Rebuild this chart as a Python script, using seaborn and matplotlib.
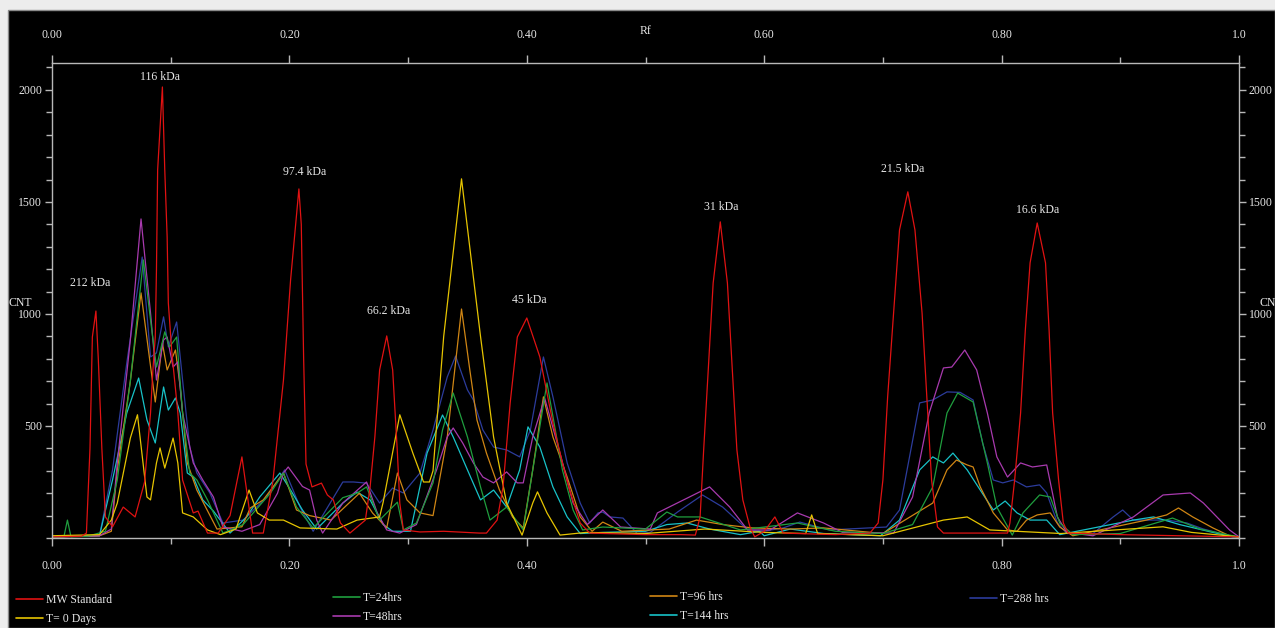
import numpy as np
import pandas as pd
import matplotlib
matplotlib.use("Agg")
import matplotlib.pyplot as plt
import seaborn as sns
from matplotlib.ticker import MultipleLocator, FixedLocator, FixedFormatter
from matplotlib.patches import Rectangle
from matplotlib.lines import Line2D

# ---------------- data ----------------
series_names = ["MW Standard", "T= 0 Days", "T=24hrs", "T=48hrs", "T=96 hrs", "T=144 hrs", "T=288 hrs"]

mw_rf = [0, .025, .029, .032, .034, .037, .039, .042, .045, .051, .060, .070, .078, .083, .085, .087,
         .088, .089, .093, .095, .097, .098, .101, .106, .110, .119, .123, .131, .140, .150, .160, .169,
         .178, .186, .195, .201, .208, .210, .212, .214, .219, .227, .232, .237, .243, .251, .264, .268,
         .272, .276, .282, .287, .291, .293, .296, .310, .330, .360, .366, .375, .380, .386, .392, .400,
         .411, .422, .430, .436, .445, .453, .500, .530, .542, .546, .549, .553, .557, .563, .569, .573,
         .577, .582, .588, .592, .600, .609, .616, .660, .689, .696, .700, .704, .709, .714, .721, .727,
         .733, .737, .741, .746, .751, .790, .805, .807, .811, .816, .820, .824, .830, .837, .840, .843,
         .848, .852, .856, .900, 1.0]
mw_cnt = [5, 8, 22, 400, 897, 1013, 800, 400, 94, 50, 138, 94, 250, 558, 750, 897,
          1196, 1643, 2013, 1643, 1344, 1049, 826, 560, 259, 112, 120, 22, 22, 100, 362, 22,
          22, 250, 705, 1152, 1558, 1400, 800, 330, 228, 245, 192, 170, 67, 22, 80, 228,
          451, 750, 902, 750, 379, 156, 36, 27, 30, 22, 22, 80, 228, 603, 897, 982,
          808, 513, 335, 214, 67, 22, 15, 15, 13, 94, 393, 763, 1138, 1411, 1138, 763,
          393, 170, 49, 5, 30, 94, 22, 15, 22, 67, 259, 630, 1004, 1375, 1545, 1375,
          1004, 630, 259, 49, 22, 22, 22, 67, 259, 558, 929, 1228, 1406, 1228, 929, 558,
          259, 67, 22, 15, 5]

t0_rf = [0, .04, .05, .055, .066, .072, .080, .083, .088, .091, .095, .102, .106, .110, .119, .131,
         .142, .155, .166, .173, .183, .195, .209, .240, .257, .276, .279, .293, .304, .313, .318,
         .321, .330, .345, .361, .372, .383, .396, .405, .409, .417, .428, .45, .5, .55, .6, .635,
         .640, .645, .7, .751, .771, .79, .85, .936, .96, 1.0]
t0_cnt = [10, 15, 80, 156, 446, 550, 183, 170, 335, 402, 312, 446, 335, 112, 94, 36,
          15, 40, 214, 112, 80, 80, 45, 40, 80, 94, 160, 550, 379, 250, 250,
          300, 900, 1603, 900, 451, 156, 13, 156, 206, 112, 13, 25, 20, 40, 25, 20,
          103, 20, 10, 80, 94, 36, 20, 50, 25, 5]

t24_rf = [0, .010, .013, .016, .03, .045, .055, .066, .077, .083, .088, .095, .099, .105, .110, .116,
          .122, .131, .144, .161, .184, .195, .206, .22, .245, .257, .265, .276, .291, .296, .307,
          .321, .329, .338, .350, .361, .369, .383, .397, .405, .417, .430, .439, .447, .464, .5,
          .518, .527, .546, .580, .628, .66, .7, .725, .742, .754, .763, .776, .788, .796, .809,
          .818, .832, .841, .849, .860, .9, .944, .967, .990, 1.0]
t24_cnt = [5, 5, 80, 5, 8, 30, 259, 700, 1241, 973, 763, 920, 853, 897, 558, 290,
           259, 170, 22, 60, 200, 290, 138, 45, 180, 200, 228, 80, 160, 36, 67,
           246, 482, 647, 451, 228, 80, 138, 36, 304, 692, 304, 125, 36, 49, 40,
           116, 94, 94, 36, 67, 30, 20, 60, 228, 558, 647, 607, 335, 138, 13,
           112, 192, 183, 67, 15, 20, 89, 40, 15, 5]

t48_rf = [0, .04, .05, .055, .066, .075, .083, .088, .094, .097, .102, .106, .110, .119, .127, .136,
          .144, .16, .175, .19, .195, .199, .211, .217, .223, .228, .245, .265, .274, .282, .293,
          .307, .324, .333, .338, .346, .355, .363, .372, .383, .392, .397, .405, .415, .428, .439,
          .451, .464, .479, .504, .510, .537, .554, .571, .586, .605, .628, .650, .666, .709, .725,
          .739, .751, .758, .769, .779, .788, .796, .805, .816, .826, .838, .847, .855, .877, .911,
          .936, .959, .970, .992, 1.0]
t48_cnt = [5, 10, 40, 335, 884, 1424, 1004, 705, 884, 897, 763, 786, 558, 335, 259, 183,
           49, 30, 60, 200, 290, 317, 230, 214, 80, 22, 156, 250, 112, 36, 22,
           60, 304, 451, 491, 424, 335, 272, 246, 295, 246, 246, 451, 625, 379, 156,
           60, 125, 49, 40, 112, 183, 228, 138, 36, 36, 112, 67, 25, 22, 183,
           558, 759, 763, 839, 750, 558, 362, 272, 335, 317, 326, 94, 25, 10, 94,
           192, 201, 156, 36, 5]

t96_rf = [0, .04, .05, .055, .066, .075, .083, .087, .093, .097, .104, .108, .114, .122, .139, .16,
          .167, .178, .195, .206, .217, .235, .259, .270, .282, .291, .299, .310, .321, .333, .345,
          .352, .358, .366, .377, .388, .397, .405, .414, .422, .434, .445, .455, .464, .48, .52,
          .543, .565, .59, .622, .65, .7, .742, .754, .762, .771, .776, .782, .793, .805, .813,
          .821, .830, .841, .849, .860, .922, .939, .949, .961, .978, .992, 1.0]
t96_cnt = [5, 10, 30, 304, 700, 1094, 767, 607, 870, 750, 839, 674, 335, 214, 40, 50,
           134, 170, 290, 125, 100, 80, 200, 112, 45, 290, 170, 112, 100, 451, 1022,
           750, 527, 379, 214, 94, 45, 304, 630, 451, 272, 94, 30, 71, 30, 40,
           80, 60, 45, 40, 45, 20, 156, 304, 348, 326, 317, 228, 112, 36, 30,
           80, 103, 112, 49, 10, 80, 103, 134, 94, 45, 10, 5]

t144_rf = [0, .04, .051, .063, .073, .080, .087, .094, .098, .104, .108, .114, .119, .127, .136, .150,
           .164, .175, .192, .201, .211, .223, .245, .257, .268, .279, .287, .302, .316, .329, .338,
           .350, .361, .372, .383, .394, .401, .411, .422, .434, .445, .464, .50, .518, .535, .554,
           .580, .596, .60, .622, .65, .698, .714, .731, .742, .751, .759, .771, .782, .793, .803,
           .813, .824, .838, .849, .911, .928, .950, .978, .995, 1.0]
t144_cnt = [5, 10, 259, 558, 714, 527, 424, 674, 571, 625, 558, 290, 272, 170, 120, 22,
            94, 183, 290, 214, 125, 40, 156, 205, 170, 60, 30, 30, 379, 549, 451,
            304, 170, 214, 138, 304, 496, 406, 228, 94, 20, 25, 30, 60, 67, 40,
            15, 30, 10, 40, 20, 10, 80, 304, 362, 335, 379, 304, 214, 125, 165,
            112, 80, 80, 15, 80, 94, 60, 25, 5, 5]

t288_rf = [0, .04, .051, .063, .076, .083, .088, .094, .098, .105, .110, .116, .122, .133, .144, .161,
           .181, .196, .209, .220, .245, .254, .265, .276, .287, .296, .310, .321, .333, .340, .350,
           .355, .363, .372, .383, .394, .403, .414, .422, .434, .445, .453, .460, .464, .470, .481,
           .493, .504, .527, .548, .565, .586, .599, .616, .630, .655, .703, .714, .731, .742, .754,
           .765, .776, .784, .793, .801, .810, .821, .832, .838, .847, .855, .877, .894, .902, .911,
           .922, .939, .956, .970, .992, 1.0]
t288_cnt = [5, 10, 304, 781, 1254, 808, 826, 987, 853, 964, 705, 406, 290, 201, 67, 80,
            183, 304, 138, 30, 250, 250, 245, 156, 223, 201, 290, 482, 719, 812, 661,
            616, 482, 406, 393, 362, 482, 808, 630, 335, 156, 67, 112, 116, 94, 89,
            20, 25, 116, 192, 138, 36, 30, 45, 71, 36, 49, 125, 603, 616, 652,
            650, 616, 424, 259, 246, 259, 228, 237, 201, 67, 20, 20, 94, 125, 80,
            80, 80, 67, 40, 10, 5]

band_labels = ["212 kDa", "116 kDa", "97.4 kDa", "66.2 kDa", "45 kDa", "31 kDa", "21.5 kDa", "16.6 kDa"]
band_rf = [0.032, 0.091, 0.213, 0.284, 0.402, 0.564, 0.717, 0.830]
band_cnt = [1138, 2058, 1634, 1013, 1063, 1478, 1647, 1464]

x_tick_vals = [0.0, 0.2, 0.4, 0.6, 0.8, 1.0]
x_tick_labels = ["0.00", "0.20", "0.40", "0.60", "0.80", "1.0"]
y_tick_vals = [500, 1000, 1500, 2000]
y_tick_labels = ["500", "1000", "1500", "2000"]

colors = {
    "MW Standard": "#e01212",
    "T= 0 Days": "#e6c400",
    "T=24hrs": "#1f9e3e",
    "T=48hrs": "#a83aae",
    "T=96 hrs": "#d08614",
    "T=144 hrs": "#18c2c8",
    "T=288 hrs": "#2c3c9c",
}

series_data = [(mw_rf, mw_cnt), (t0_rf, t0_cnt), (t24_rf, t24_cnt), (t48_rf, t48_cnt),
               (t96_rf, t96_cnt), (t144_rf, t144_cnt), (t288_rf, t288_cnt)]
frames = []
for name, (rf, cnt) in zip(series_names, series_data):
    frames.append(pd.DataFrame({"Rf": rf, "CNT": cnt, "series": name}))
df = pd.concat(frames, ignore_index=True)

# ---------------- style ----------------
sns.set_theme(style="ticks")
plt.rcParams["font.family"] = ["Liberation Serif", "DejaVu Serif"]
fg = "#e6e6e6"
axis_col = "#b8b8b8"

W, H = 1275, 628
fig = plt.figure(figsize=(W / 100, H / 100), dpi=100, facecolor="#ededed")
bg = Rectangle((8 / W, 0), 1 - 8 / W, 1 - 10 / H, transform=fig.transFigure,
               facecolor="black", edgecolor="#8a8a8a", linewidth=1.0, zorder=-10)
fig.patches.append(bg)

ax = fig.add_axes([52 / W, 1 - 538 / H, (1239 - 52) / W, (538 - 63) / H])
ax.set_zorder(5)
ax.set_facecolor("black")

draw_order = ["T=288 hrs", "T=144 hrs", "T=96 hrs", "T=48hrs", "T=24hrs", "T= 0 Days", "MW Standard"]
sns.lineplot(data=df, x="Rf", y="CNT", hue="series", hue_order=draw_order, palette=colors,
             estimator=None, sort=False, linewidth=0.9, legend=False, ax=ax)

ax.set_xlim(0, 1)
ax.set_ylim(0, 2120)
ax.set_xlabel("")
ax.set_ylabel("")

for s in ["left", "right", "top", "bottom"]:
    ax.spines[s].set_visible(True)
    ax.spines[s].set_color(axis_col)
    ax.spines[s].set_linewidth(1.0)

ax.xaxis.set_major_locator(FixedLocator(x_tick_vals))
ax.xaxis.set_major_formatter(FixedFormatter(x_tick_labels))
ax.xaxis.set_minor_locator(MultipleLocator(0.1))
ax.yaxis.set_major_locator(FixedLocator(y_tick_vals))
ax.yaxis.set_major_formatter(FixedFormatter(y_tick_labels))
ax.yaxis.set_minor_locator(MultipleLocator(100))

ax.tick_params(axis="x", which="both", direction="out", colors=axis_col, labelcolor=fg,
               labelsize=8.5, pad=10, bottom=True, top=True, labelbottom=True, labeltop=True)
ax.tick_params(axis="x", which="major", length=6, width=1)
ax.tick_params(axis="x", which="minor", length=4, width=1)
ax.tick_params(axis="y", which="both", direction="out", colors=axis_col, labelcolor=fg,
               labelsize=8.5, pad=2, left=True, right=True, labelleft=True, labelright=True)
ax.tick_params(axis="y", which="major", length=5, width=1)
ax.tick_params(axis="y", which="minor", length=4, width=1)

for lbl, xr, yc in zip(band_labels, band_rf, band_cnt):
    ax.text(xr, yc, lbl, ha="center", va="center", fontsize=8.5, color=fg)

fig.text(645 / W, 1 - 31 / H, "Rf", ha="center", va="center", fontsize=8.5, color=fg)
fig.text(20 / W, 1 - 303 / H, "CNT", ha="center", va="center", fontsize=8.5, color=fg)
fig.text(1259 / W, 1 - 303 / H, "CN", ha="left", va="center", fontsize=8.5, color=fg)

# ---------------- legend (four columns) ----------------
legend_cols = [["MW Standard", "T= 0 Days"], ["T=24hrs", "T=48hrs"], ["T=96 hrs", "T=144 hrs"], ["T=288 hrs"]]
legend_x = [16, 333, 650, 970]
legend_y = [594, 592, 591, 593]
for names, lx, ly in zip(legend_cols, legend_x, legend_y):
    handles = [Line2D([], [], color=colors[n], lw=1.2) for n in names]
    fig.legend(handles=handles, labels=names, loc="upper left",
               bbox_to_anchor=(lx / W, 1 - ly / H), frameon=False, fontsize=8.5,
               labelcolor=fg, handlelength=2.3, handletextpad=0.25, labelspacing=0.6,
               borderpad=0, borderaxespad=0)

fig.savefig("out.png", dpi=100, facecolor=fig.get_facecolor())
